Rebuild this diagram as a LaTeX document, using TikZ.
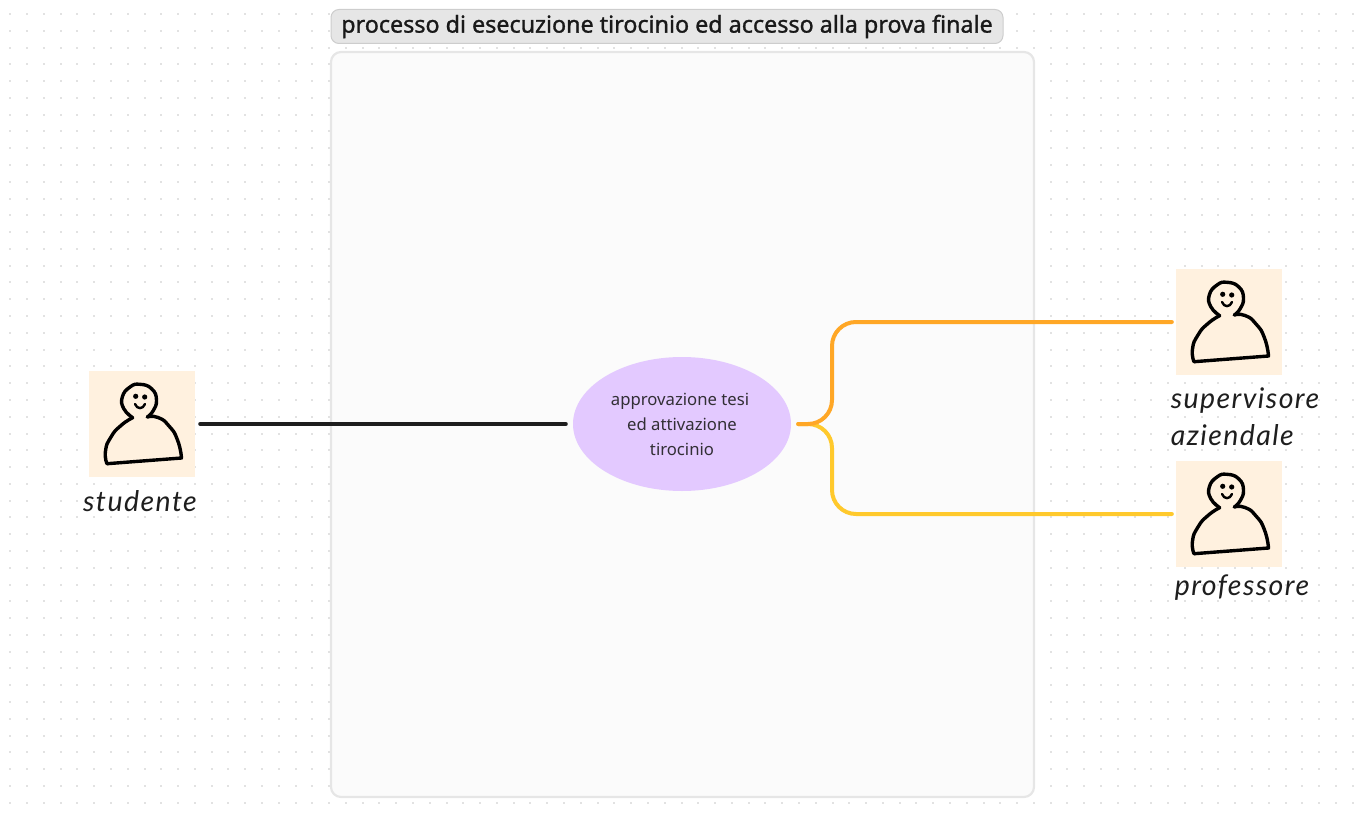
\documentclass[tikz,border=0pt]{standalone}
\usepackage{fontspec}
\setmainfont{Noto Sans}
\newfontfamily\titlefont[FakeBold=1.2]{Noto Sans}
\newfontfamily\handfont[LetterSpace=5]{Lato}
\usetikzlibrary{shapes.geometric}
\definecolor{griddot}{HTML}{E2E2E2}
\definecolor{framefill}{HTML}{FBFBFB}
\definecolor{frameline}{HTML}{E6E6E6}
\definecolor{titlefill}{HTML}{E6E6E6}
\definecolor{titleline}{HTML}{CDCDCD}
\definecolor{skin}{HTML}{FFF1DF}
\definecolor{lilac}{HTML}{E3C9FF}
\definecolor{inkdark}{HTML}{1E1E1E}
\definecolor{linkorange}{HTML}{FFA726}
\definecolor{linkyellow}{HTML}{FFC92C}
\tikzset{
  personbox/.style={fill=skin,minimum size=106pt,inner sep=0pt},
  personline/.style={black,line width=3.4pt,line join=round,line cap=round},
  persona/.pic={
    \node [personbox] (-box) at (53,53) {};
    \draw [personline] plot [smooth,tension=.85] coordinates {
      (43.7,46.7) (34.8,37.7) (33.3,26) (41,16) (51,13.3) (62.7,17.8) (67.5,29) (64,40) (58.3,46)};
    \draw [personline] plot [smooth,tension=1] coordinates {
      (58.3,46) (69,46.5) (80,55) (88.5,69) (92.5,87)} -- (18,92.7);
    \draw [personline] plot [smooth,tension=1] coordinates {
      (18,92.7) (16.5,80) (22,66) (32,54.5) (43.7,46.7)};
    \fill (46.7,25.3) circle [radius=2.6pt] (55.7,26) circle [radius=2.6pt];
    \draw [black,line width=2.4pt,line cap=round] (46,33) .. controls (48,38.5) and (54,38.5) .. (56,33);
  },
  handtext/.style={font=\handfont\itshape\fontsize{28.5}{37}\selectfont,text=inkdark,inner sep=0pt,align=left},
  link/.style={line width=4pt,line cap=round,rounded corners=24pt,shorten <=7pt,shorten >=4pt},
}
\begin{document}
\begin{tikzpicture}[x=1pt,y=-1pt]
    \useasboundingbox (0,0) rectangle (1368,816);
    \foreach \i in {0,...,80} \foreach \j in {0,...,47}
      \fill [griddot] ({9.3+16.78*\i},{13+16.78*\j}) rectangle ++(2,2);
    \draw [frameline,fill=framefill,line width=2.2pt,rounded corners=10pt] (331,52) rectangle (1034,797);
    \node [draw=titleline,fill=titlefill,rounded corners=8pt,line width=1pt,minimum width=672pt,minimum height=34pt,inner sep=0pt,font=\titlefont\fontsize{23.3}{26}\selectfont,text=black!90] (titolo) at (667,26.5) {processo di esecuzione tirocinio ed accesso alla prova finale};

    \node [ellipse,fill=lilac,minimum width=218pt,minimum height=134pt,inner sep=0pt,align=center,text=inkdark!90!lilac,font=\fontsize{16.7}{25}\selectfont] (tesi) at (682,424) {approvazione tesi\hspace*{4pt}\\ed attivazione\hspace*{4pt}\\tirocinio};

    \pic (studente) at (89,371) {persona};
    \pic (supervisore) at (1176,269) {persona};
    \pic (professore) at (1176,461) {persona};

    \node [handtext] (studente-label) at (140,501) {studente};
    \node [handtext] (supervisore-label) at (1245,416.5) {supervisore\\aziendale};
    \node [handtext] (professore-label) at (1242,588) {professore};

    \coordinate (fork) at (832,424);
    \draw [line width=4pt,line cap=round,color=inkdark,shorten <=5pt,shorten >=7pt] (studente-box.east) -- (tesi.west);
    \draw [link,linkyellow] (tesi.east) -- (fork) |- (professore-box.west);
    \draw [link,linkorange] (tesi.east) -- (fork) |- (supervisore-box.west);
\end{tikzpicture}
\end{document}
